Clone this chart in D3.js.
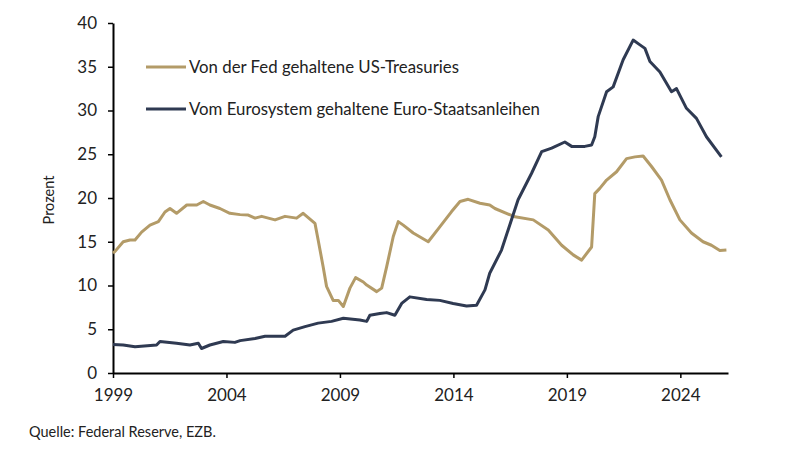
<!DOCTYPE html>
<html lang="de">
<head>
<meta charset="UTF-8">
<title>Staatsanleihen im Besitz der Zentralbanken</title>
<style>
    body { margin: 0; background: #fff; font-family: Lato, "Open Sans", sans-serif; }
    .tick text { font-size: 17px; fill: #222; font-family: Lato, sans-serif; }
    .legend text { font-size: 16.8px; fill: #222; }
</style>
</head>
<body>
<div id="chart"></div>
<script src="https://d3js.org/d3.v7.min.js"></script>
<script>
// Anteil in Prozent, x als Dezimaljahr
const fedYears = [1999.0, 1999.09, 1999.45, 1999.75, 1999.97, 2000.26, 2000.63, 2001.0, 2001.29, 2001.51, 2001.8, 2002.25, 2002.69, 2002.98, 2003.27, 2003.71, 2004.15, 2004.6, 2004.96, 2005.26, 2005.55, 2006.14, 2006.58, 2007.09, 2007.38, 2007.9, 2008.04, 2008.26, 2008.41, 2008.7, 2008.93, 2009.15, 2009.44, 2009.69, 2010.03, 2010.18, 2010.62, 2010.84, 2011.06, 2011.35, 2011.57, 2011.79, 2012.23, 2012.89, 2013.4, 2013.92, 2014.29, 2014.65, 2015.17, 2015.6, 2015.83, 2016.71, 2017.52, 2018.18, 2018.77, 2019.28, 2019.65, 2020.09, 2020.23, 2020.45, 2020.75, 2021.19, 2021.63, 2022.0, 2022.36, 2022.73, 2023.17, 2023.54, 2023.98, 2024.49, 2025.0, 2025.37, 2025.74, 2026.03];
const fedValues = [13.7, 13.9, 15.0, 15.2, 15.2, 16.1, 16.9, 17.3, 18.4, 18.8, 18.25, 19.2, 19.2, 19.6, 19.2, 18.8, 18.25, 18.1, 18.05, 17.7, 17.9, 17.5, 17.9, 17.7, 18.25, 17.1, 15.2, 12.15, 9.9, 8.3, 8.3, 7.6, 9.7, 10.9, 10.4, 10.05, 9.3, 9.7, 12.15, 15.6, 17.3, 16.9, 16.0, 15.0, 16.7, 18.45, 19.6, 19.85, 19.4, 19.2, 18.8, 17.85, 17.5, 16.35, 14.6, 13.5, 12.9, 14.4, 20.5, 21.1, 22.05, 23.0, 24.5, 24.7, 24.8, 23.6, 22.05, 19.8, 17.5, 16.0, 15.0, 14.6, 14.0, 14.05];

const ezbYears = [1999.0, 1999.45, 1999.97, 2000.92, 2001.07, 2001.8, 2002.39, 2002.76, 2002.9, 2003.27, 2003.86, 2004.37, 2004.6, 2005.26, 2005.7, 2006.58, 2006.94, 2007.46, 2008.04, 2008.63, 2009.15, 2009.88, 2010.18, 2010.32, 2010.76, 2011.06, 2011.42, 2011.72, 2012.08, 2012.82, 2013.4, 2013.99, 2014.58, 2015.02, 2015.39, 2015.6, 2016.12, 2016.85, 2017.44, 2017.89, 2018.33, 2018.91, 2019.21, 2019.79, 2020.09, 2020.23, 2020.38, 2020.75, 2021.04, 2021.48, 2021.92, 2022.22, 2022.44, 2022.66, 2023.1, 2023.61, 2023.83, 2024.27, 2024.71, 2025.15, 2025.81];
const ezbValues = [3.25, 3.2, 3.0, 3.2, 3.6, 3.4, 3.2, 3.4, 2.8, 3.2, 3.6, 3.5, 3.7, 3.95, 4.2, 4.2, 4.9, 5.3, 5.7, 5.9, 6.25, 6.05, 5.9, 6.6, 6.8, 6.9, 6.6, 7.95, 8.7, 8.4, 8.3, 7.95, 7.65, 7.75, 9.5, 11.4, 14.05, 19.8, 22.8, 25.3, 25.7, 26.4, 25.9, 25.9, 26.05, 27.0, 29.3, 32.15, 32.7, 35.8, 38.05, 37.5, 37.1, 35.6, 34.4, 32.15, 32.5, 30.25, 29.1, 27.0, 24.7];

const yearTicks = [1999, 2004, 2009, 2014, 2019, 2024];
const valueTicks = [0, 5, 10, 15, 20, 25, 30, 35, 40];

const seriesNames = ["Von der Fed gehaltene US-Treasuries", "Vom Eurosystem gehaltene Euro-Staatsanleihen"];
const seriesColors = ["#b39b68", "#2f3a52"];

const W = 800, H = 455;
const margin = { top: 23, right: 72, bottom: 82, left: 113 };
const width = W - margin.left - margin.right;
const height = H - margin.top - margin.bottom;

const svg = d3.select("#chart").append("svg")
    .attr("width", W)
    .attr("height", H);

const g = svg.append("g")
    .attr("transform", `translate(${margin.left},${margin.top})`);

const x = d3.scaleLinear().domain([1999, 2026.1]).range([0, width]);
const y = d3.scaleLinear().domain([0, 40]).range([height, 0]);

const xAxis = g.append("g")
    .attr("transform", `translate(0,${height})`)
    .call(d3.axisBottom(x).tickValues(yearTicks).tickFormat(d3.format("d")).tickSize(5).tickSizeOuter(0));
xAxis.selectAll("text").attr("dy", "1.2em");

const yAxis = g.append("g")
    .call(d3.axisLeft(y).tickValues(valueTicks).tickSize(5).tickSizeOuter(0));
yAxis.selectAll("text").attr("x", -16);

svg.selectAll(".domain").attr("stroke", "#000").attr("stroke-width", 2);
svg.selectAll(".tick line").attr("stroke", "#000").attr("stroke-width", 1.5);

const line = d3.line()
    .x(d => x(d[0]))
    .y(d => y(d[1]));

const fedData = d3.zip(fedYears, fedValues);
const ezbData = d3.zip(ezbYears, ezbValues);

[fedData, ezbData].forEach((data, i) => {
    g.append("path")
        .datum(data)
        .attr("fill", "none")
        .attr("stroke", seriesColors[i])
        .attr("stroke-width", 3)
        .attr("stroke-linejoin", "round")
        .attr("d", line);
});

// Legende
const legend = svg.append("g").attr("class", "legend");
seriesNames.forEach((name, i) => {
    const ly = 67 + i * 42;
    legend.append("line")
        .attr("x1", 146).attr("x2", 186)
        .attr("y1", ly).attr("y2", ly)
        .attr("stroke", seriesColors[i])
        .attr("stroke-width", 3);
    legend.append("text")
        .attr("x", 189).attr("y", ly)
        .attr("dy", "0.35em")
        .text(name);
});

svg.append("text")
    .attr("transform", "translate(54,200) rotate(-90)")
    .attr("text-anchor", "middle")
    .style("font-size", "14.5px")
    .style("fill", "#222")
    .text("Prozent");

svg.append("text")
    .attr("x", 29).attr("y", 437)
    .style("font-size", "14.5px")
    .style("fill", "#222")
    .text("Quelle: Federal Reserve, EZB.");
</script>
</body>
</html>
